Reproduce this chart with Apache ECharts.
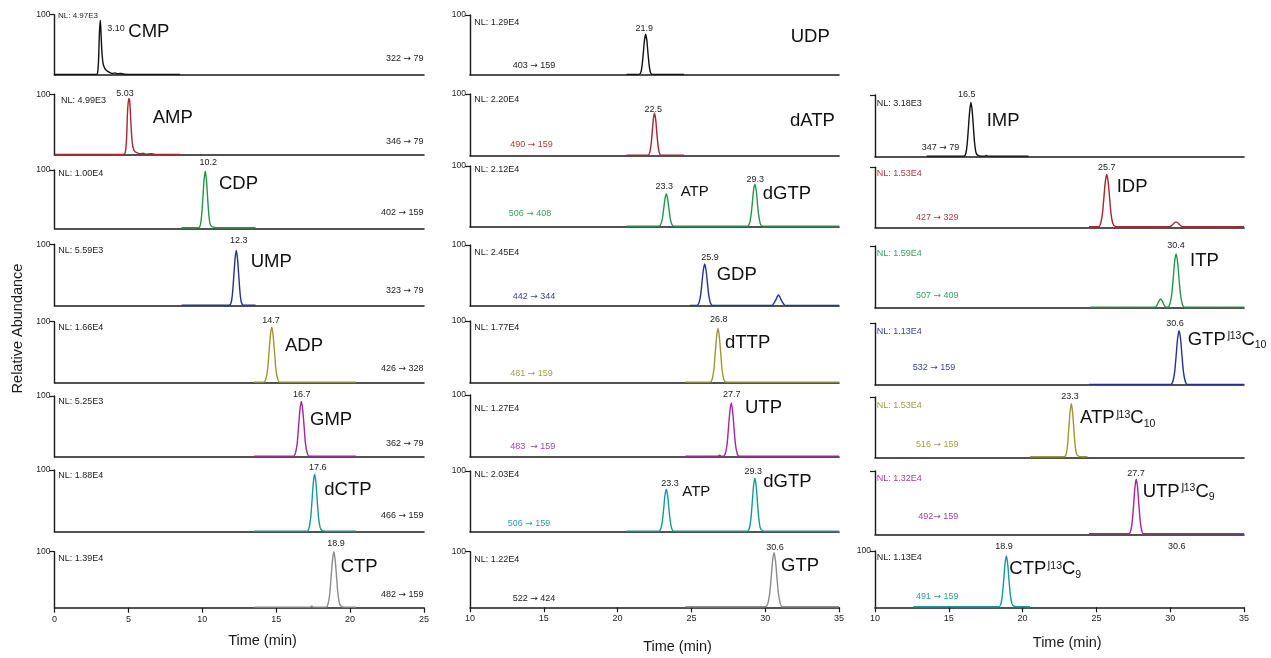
<!DOCTYPE html>
<html>
<head>
<meta charset="utf-8">
<script src="https://cdn.jsdelivr.net/npm/echarts@6/dist/echarts.min.js"></script>
<style>
  html, body { margin: 0; padding: 0; background: #fff; }
  #chart { width: 1271px; height: 658px; }
</style>
</head>
<body>
<div id="chart"></div>
<script>
// ---- Chromatogram data: [time (min), relative abundance (%)] ----
const trCMP = [[0,1],[2.75,1],[2.9,2],[2.98,25],[3.04,70],[3.10,91],[3.16,62],[3.22,34],[3.29,19],[3.4,11],[3.54,7],[3.75,4],[3.95,2.5],[4.1,3.5],[4.25,2],[4.45,2.5],[4.7,1.5],[5.4,1],[8.5,1]];
const trAMP = [[0,1],[4.65,1],[4.78,3],[4.87,25],[4.95,75],[5.03,93],[5.09,88],[5.15,62],[5.22,32],[5.3,14],[5.42,6],[5.6,3.5],[5.85,2],[6.0,2.8],[6.15,1.5],[6.55,2.2],[6.8,1],[8.5,1]];
const trCDP = [[8.6,1],[9.76,1],[9.88,7],[9.96,24],[10.04,52],[10.12,83],[10.2,98],[10.28,83],[10.36,52],[10.44,24],[10.52,8],[10.64,3],[10.85,1.5],[11.1,1],[13.6,1]];
const trUMP = [[8.6,1],[11.83,1],[11.96,6],[12.05,22],[12.13,48],[12.22,77],[12.3,90],[12.38,77],[12.47,48],[12.55,22],[12.64,6],[12.77,1],[13.6,1]];
const trADP = [[13.5,1],[14.17,1],[14.31,7],[14.42,22],[14.51,49],[14.61,78],[14.7,91],[14.79,78],[14.89,49],[14.98,22],[15.09,7],[15.23,1],[20.4,1]];
const trGMP = [[13.5,1],[16.17,1],[16.31,7],[16.42,22],[16.51,49],[16.61,78],[16.7,91],[16.79,78],[16.89,49],[16.98,22],[17.09,7],[17.23,1],[20.4,1]];
const trdCTP = [[13.5,1],[17.1,1],[17.23,7],[17.33,22],[17.42,49],[17.51,79],[17.6,93],[17.69,79],[17.78,49],[17.87,22],[17.97,7],[18.1,2],[18.3,1],[20.4,1]];
const trCTP = [[13.5,1],[17.3,1],[17.4,3],[17.5,1],[18.37,1],[18.51,7],[18.62,24],[18.71,53],[18.81,85],[18.9,100],[18.99,85],[19.09,53],[19.18,24],[19.29,7],[19.43,2],[19.6,1],[20.4,1]];
const trUDP = [[20.6,1],[21.46,1],[21.58,5],[21.66,16],[21.74,36],[21.82,58],[21.9,68],[21.98,58],[22.06,36],[22.14,16],[22.22,5],[22.34,1],[24.5,1]];
const trdATP = [[20.6,1],[22.06,1],[22.18,5],[22.26,17],[22.34,36],[22.42,59],[22.5,69],[22.58,59],[22.66,36],[22.74,17],[22.82,5],[22.94,1],[24.5,1]];
const trATPdGTP = [[20.6,1],[22.8,1],[22.93,4],[23.03,13],[23.12,29],[23.21,46],[23.3,54],[23.39,46],[23.48,29],[23.57,13],[23.67,4],[23.8,1],[28.8,1],[28.93,5],[29.03,17],[29.12,37],[29.21,60],[29.3,70],[29.39,60],[29.48,37],[29.57,17],[29.67,5],[29.8,1],[35,1]];
const trGDP = [[24.9,1],[25.37,1],[25.51,5],[25.62,17],[25.71,37],[25.81,59],[25.9,69],[25.99,59],[26.09,37],[26.18,17],[26.29,5],[26.43,1],[30.45,1],[30.6,5],[30.72,10],[30.81,15],[30.9,18],[30.99,15],[31.08,10],[31.2,5],[31.35,1],[35,1]];
const trdTTP = [[24.6,1],[26.27,1],[26.41,6],[26.52,21],[26.61,47],[26.71,75],[26.8,88],[26.89,75],[26.99,47],[27.08,21],[27.19,6],[27.33,1],[35,1]];
const trUTP = [[24.6,1],[26.8,1],[26.9,2.5],[27.0,1],[27.17,1],[27.31,6],[27.42,21],[27.51,46],[27.61,74],[27.7,87],[27.79,74],[27.89,46],[27.98,21],[28.09,6],[28.23,1],[35,1]];
const trATPdGTP2 = [[20.6,1],[22.8,1],[22.93,5],[23.03,17],[23.12,37],[23.21,60],[23.3,70],[23.39,60],[23.48,37],[23.57,17],[23.67,5],[23.8,1],[28.8,1],[28.93,6],[29.03,21],[29.12,47],[29.21,75],[29.3,88],[29.39,75],[29.48,47],[29.57,21],[29.67,6],[29.8,2],[30.0,1],[35,1]];
const trGTP = [[24.6,1],[30.04,1],[30.18,7],[30.3,24],[30.4,52],[30.5,83],[30.6,98],[30.7,83],[30.8,52],[30.9,24],[31.02,7],[31.16,1],[35,1]];
const trIMP = [[13.5,1],[16.03,1],[16.16,6],[16.25,22],[16.33,47],[16.42,75],[16.5,88],[16.58,75],[16.67,47],[16.75,22],[16.85,6],[16.98,2],[17.2,1],[17.45,1],[17.55,2],[17.65,1],[20.4,1]];
const trIDP = [[24.5,1],[25.14,1],[25.28,6],[25.4,21],[25.5,47],[25.6,75],[25.7,88],[25.8,75],[25.9,47],[26.0,21],[26.12,6],[26.28,1.5],[26.5,1],[29.95,1],[30.1,3],[30.22,6],[30.31,8],[30.4,9],[30.49,8],[30.58,6],[30.7,3],[30.85,1],[35,1]];
const trITP = [[24.6,1],[28.95,1],[29.08,3],[29.18,8],[29.27,12],[29.35,14],[29.43,12],[29.52,8],[29.62,3],[29.75,1],[29.84,1],[29.98,6],[30.1,21],[30.2,46],[30.3,74],[30.4,87],[30.5,74],[30.6,46],[30.7,21],[30.82,6],[30.96,1],[35,1]];
const trGTP13C = [[24.5,1],[30.04,1],[30.18,6],[30.3,21],[30.4,47],[30.5,75],[30.6,88],[30.7,75],[30.8,47],[30.9,21],[31.02,6],[31.16,1],[35,1]];
const trATP13C = [[20.5,1],[22.83,1],[22.96,6],[23.05,22],[23.13,48],[23.22,76],[23.3,89],[23.38,76],[23.47,48],[23.55,22],[23.65,6],[23.78,2],[24.0,1],[24.4,1]];
const trUTP13C = [[24.5,1],[27.2,1],[27.33,6],[27.43,21],[27.52,46],[27.61,74],[27.7,87],[27.79,74],[27.88,46],[27.97,21],[28.07,6],[28.2,1],[35,1]];
const trCTP13C = [[12.6,1],[18.4,1],[18.53,6],[18.63,22],[18.72,48],[18.81,77],[18.9,91],[18.99,77],[19.08,48],[19.17,22],[19.27,7],[19.4,2],[19.6,1],[20.5,1]];

// ---- Panel texts ----
const compoundNames = [
  ['CMP'], ['AMP'], ['CDP'], ['UMP'], ['ADP'], ['GMP'], ['dCTP'], ['CTP'],
  ['UDP'], ['dATP'], ['ATP', 'dGTP'], ['GDP'], ['dTTP'], ['UTP'], ['ATP', 'dGTP'], ['GTP'],
  ['IMP'], ['IDP'], ['ITP'], ['GTP{sup|⌋13}C{sub|10}'], ['ATP{sup|⌋13}C{sub|10}'], ['UTP{sup|⌋13}C{sub|9}'], ['CTP{sup|⌋13}C{sub|9}']
];
const nlValues = ['4.97E3','4.99E3','1.00E4','5.59E3','1.66E4','5.25E3','1.88E4','1.39E4',
  '1.29E4','2.20E4','2.12E4','2.45E4','1.77E4','1.27E4','2.03E4','1.22E4',
  '3.18E3','1.53E4','1.59E4','1.13E4','1.53E4','1.32E4','1.13E4'];
const transitions = ['322 → 79','346 → 79','402 → 159','323 → 79','426 → 328','362 → 79','466 → 159','482 → 159',
  '403 → 159','490 → 159','506 → 408','442 → 344','481 → 159','483  → 159','506 → 159','522 → 424',
  '347 → 79','427 → 329','507 → 409','532 → 159','516 → 159','492→ 159','491 → 159'];
const peakTimes = [['3.10'],['5.03'],['10.2'],['12.3'],['14.7'],['16.7'],['17.6'],['18.9'],
  ['21.9'],['22.5'],['23.3','29.3'],['25.9'],['26.8'],['27.7'],['23.3','29.3'],['30.6'],
  ['16.5'],['25.7'],['30.4'],['30.6'],['23.3'],['27.7'],['18.9']];
const extraTimeLabel = '30.6';
const timeRanges = [[0, 25], [10, 35], [10, 35]];
const yTopTick = [100];
const xTitle = 'Time (min)';
const yTitle = 'Relative Abundance';

const traces = [trCMP, trAMP, trCDP, trUMP, trADP, trGMP, trdCTP, trCTP,
  trUDP, trdATP, trATPdGTP, trGDP, trdTTP, trUTP, trATPdGTP2, trGTP,
  trIMP, trIDP, trITP, trGTP13C, trATP13C, trUTP13C, trCTP13C];

// ---- Layout (pixels) ----
const COLS = [{ left: 54.5, right: 424 }, { left: 470, right: 839 }, { left: 875, right: 1244 }];
// [column, top, baseline]
const BOX = [
  [0,14.7,75],[0,94.3,155],[0,170,228.3],[0,244.3,305.7],[0,321.7,382.7],[0,396,456.7],[0,470,531.7],[0,551.7,607.7],
  [1,15,75],[1,94,155.7],[1,166,226.7],[1,245,306],[1,321,382.7],[1,395,456.7],[1,471,531.7],[1,551.7,607.3],
  [2,95,156.7],[2,167.3,227.3],[2,246,307.7],[2,323.3,385],[2,397,457.3],[2,471,534.3],[2,551,607.3]
];
const BOTTOM = [7, 15, 22];
const NO_100 = [16, 17, 18, 19, 20, 21];

// text anchor positions: nl [x,y,size], names [[x,y,size]], rts [[cx,cy]], tr [x,y,align]
const POS = [
  { nl:[58,15.3,8], names:[[128.3,32.3]], rts:[[116,29]], tr:[423.5,58.3,'right'] },
  { nl:[61,100.7], names:[[152.7,118.3]], rts:[[125,94]], tr:[423.5,141.7,'right'] },
  { nl:[58.3,174], names:[[219,184]], rts:[[208.3,162.7]], tr:[423.5,212.7,'right'] },
  { nl:[58.3,250.7], names:[[250.7,261.7]], rts:[[238.7,240.7]], tr:[423.5,290.7,'right'] },
  { nl:[58.3,327.3], names:[[285,346]], rts:[[271,320.7]], tr:[423.5,369,'right'] },
  { nl:[58.3,401.3], names:[[310,420]], rts:[[301.7,395]], tr:[423.5,444,'right'] },
  { nl:[58.3,475.3], names:[[324.3,490]], rts:[[317.7,467.7]], tr:[423.5,515.7,'right'] },
  { nl:[58.3,559], names:[[340.7,566.7]], rts:[[336,543.3]], tr:[423.5,595,'right'] },
  { nl:[474.3,22.3], names:[[790.7,36.7]], rts:[[644.3,28.3]], tr:[512.7,65.7,'left'] },
  { nl:[474.3,100], names:[[790,120.7]], rts:[[653.3,109.3]], tr:[510.3,145,'left'] },
  { nl:[474.3,169.3], names:[[680.7,191.7,15],[762.7,194.3]], rts:[[664.3,186.7],[755.3,179.3]], tr:[508.7,213.3,'left'] },
  { nl:[474.3,252.7], names:[[716.7,275]], rts:[[710,257.7]], tr:[512.7,296.7,'left'] },
  { nl:[474.3,327.3], names:[[725,342.7]], rts:[[718.7,320]], tr:[510.3,373.3,'left'] },
  { nl:[474.3,408.7], names:[[745,408.3]], rts:[[731.7,395]], tr:[510.3,446.7,'left'] },
  { nl:[474.3,475], names:[[682.3,491.7,15],[763.3,481.7]], rts:[[670,484],[753.3,471.7]], tr:[507.7,523.3,'left'] },
  { nl:[474.3,559.3], names:[[781,566]], rts:[[775,547.7]], tr:[512.7,598.3,'left'] },
  { nl:[876.7,103.3], names:[[986.7,121]], rts:[[966.7,94.7]], tr:[921.7,147.7,'left'] },
  { nl:[876.7,174], names:[[1116.7,186.7]], rts:[[1106.7,167.3]], tr:[916,217.3,'left'] },
  { nl:[876.7,254], names:[[1190,261]], rts:[[1176,246]], tr:[916,296,'left'] },
  { nl:[876.7,331.7], names:[[1187.7,340]], rts:[[1175,323.3]], tr:[912.7,367.7,'left'] },
  { nl:[876.7,406], names:[[1080,418.3]], rts:[[1070,397]], tr:[916,444.3,'left'] },
  { nl:[876.7,479], names:[[1142.7,491.7]], rts:[[1136,473.3]], tr:[918.3,516.7,'left'] },
  { nl:[876.7,557.3], names:[[1009.3,569.3]], rts:[[1004,546.7]], tr:[916,596.7,'left'] }
];
const EXTRA_POS = [1176.7, 546.7];
const XTITLE_POS = [[262.5, 640.7], [677.5, 646.7], [1067.2, 643.3]];
const YTITLE_POS = [17.5, 328.5];

// ---- Styles ----
const C = {
  black: '#111111', red: '#a8262c', green: '#23964a', navy: '#27318f',
  olive: '#9a9834', purple: '#a3269e', teal: '#16999a', gray: '#8c8c8c'
};
const CL = { // tints used for side labels
  black: '#222222', red: '#b23a3f', green: '#3aa063', navy: '#3c4696',
  olive: '#a09f46', purple: '#a83ba6', teal: '#2a9fa4', gray: '#222222'
};
const traceColor = ['black','red','green','navy','olive','purple','teal','gray',
  'black','red','green','navy','olive','purple','teal','gray',
  'black','red','green','navy','olive','purple','teal'];
const trColor = traceColor.map((c, i) => (i < 8 ? 'black' : c));
const nlColor = traceColor.map((c, i) => (i <= 16 || i === 22 ? 'black' : c));

const FONT = "'Liberation Sans', Arial, Helvetica, sans-serif";
const ARROW_FONT = "'DejaVu Sans', sans-serif";
const AX = '#1a1a1a';

const grids = [], xAxes = [], yAxes = [], series = [], graphics = [];

BOX.forEach(([col, top, base], i) => {
  const c = COLS[col];
  const bottom = BOTTOM.includes(i);
  grids.push({ left: c.left, top: top, width: c.right - c.left, height: base - top, containLabel: false });
  xAxes.push({
    type: 'value', gridIndex: i, min: timeRanges[col][0], max: timeRanges[col][1], interval: 5,
    axisLine: { show: true, onZero: false, lineStyle: { color: AX, width: 1.6 } },
    axisTick: { show: bottom, length: 5, lineStyle: { color: AX, width: 1.2 } },
    axisLabel: { show: bottom, fontSize: 9, margin: 7, color: '#222', fontFamily: FONT },
    splitLine: { show: false }
  });
  yAxes.push({
    type: 'value', gridIndex: i, min: 0, max: 100,
    axisLine: { show: true, lineStyle: { color: AX, width: 1.4 } },
    axisTick: { show: true, customValues: yTopTick, length: 5, lineStyle: { color: AX, width: 1.2 } },
    axisLabel: { show: !NO_100.includes(i), customValues: yTopTick, fontSize: 8.5, margin: 4, color: '#222', fontFamily: FONT },
    splitLine: { show: false }
  });
  series.push({
    type: 'line', xAxisIndex: i, yAxisIndex: i, data: traces[i],
    symbol: 'none', smooth: 0.3, silent: true, z: 3,
    lineStyle: { color: C[traceColor[i]], width: 1.4 }
  });

  const p = POS[i];
  const text = (x, y, str, opt) => graphics.push({
    type: 'text', x: x, y: y, silent: true, z: 10,
    style: Object.assign({ text: str, fontFamily: FONT, verticalAlign: 'middle', align: 'left' }, opt)
  });
  text(p.nl[0], p.nl[1], 'NL: ' + nlValues[i], { fontSize: p.nl[2] || 9, fill: CL[nlColor[i]] });
  text(p.tr[0], p.tr[1], transitions[i].replace('→', '{ar|→}'), {
    fontSize: 9, fill: CL[trColor[i]], align: p.tr[2],
    rich: { ar: { fontFamily: ARROW_FONT, fontSize: 9, fill: CL[trColor[i]] } }
  });
  peakTimes[i].forEach((t, k) => text(p.rts[k][0], p.rts[k][1], t, { fontSize: 9, fill: '#222', align: 'center' }));
  compoundNames[i].forEach((n, k) => text(p.names[k][0], p.names[k][1], n, {
    fontSize: p.names[k][2] || 18.5, fill: '#111',
    rich: {
      sup: { fontSize: 10.5, fontFamily: FONT, fill: '#111', padding: [0, 0, 7, 0] },
      sub: { fontSize: 10.5, fontFamily: FONT, fill: '#111', padding: [11, 0, 0, 0] }
    }
  }));
});

graphics.push({ type: 'text', x: EXTRA_POS[0], y: EXTRA_POS[1], silent: true,
  style: { text: extraTimeLabel, fontSize: 9, fill: '#222', fontFamily: FONT, align: 'center', verticalAlign: 'middle' } });
XTITLE_POS.forEach(([x, y]) => graphics.push({ type: 'text', x: x, y: y, silent: true,
  style: { text: xTitle, fontSize: 14.5, fill: '#1a1a1a', fontFamily: FONT, align: 'center', verticalAlign: 'middle' } }));
graphics.push({ type: 'text', x: YTITLE_POS[0], y: YTITLE_POS[1], rotation: Math.PI / 2, silent: true,
  style: { text: yTitle, fontSize: 14.5, fill: '#1a1a1a', fontFamily: FONT, align: 'center', verticalAlign: 'middle' } });

const chart = echarts.init(document.getElementById('chart'), null, { renderer: 'canvas' });
chart.setOption({
  animation: false,
  backgroundColor: '#fff',
  grid: grids, xAxis: xAxes, yAxis: yAxes, series: series,
  graphic: { elements: graphics }
});
</script>
</body>
</html>
